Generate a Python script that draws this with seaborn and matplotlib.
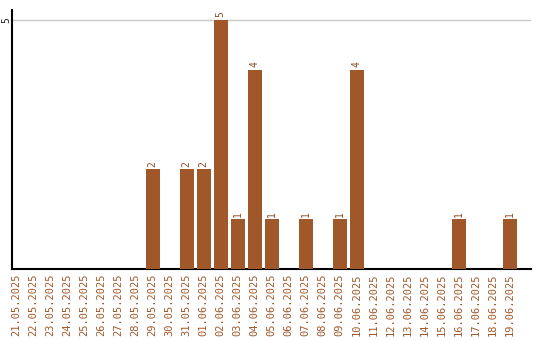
import matplotlib
matplotlib.use("Agg")
import matplotlib.pyplot as plt
import seaborn as sns
import pandas as pd

dates = ["21.05.2025", "22.05.2025", "23.05.2025", "24.05.2025", "25.05.2025",
         "26.05.2025", "27.05.2025", "28.05.2025", "29.05.2025", "30.05.2025",
         "31.05.2025", "01.06.2025", "02.06.2025", "03.06.2025", "04.06.2025",
         "05.06.2025", "06.06.2025", "07.06.2025", "08.06.2025", "09.06.2025",
         "10.06.2025", "11.06.2025", "12.06.2025", "13.06.2025", "14.06.2025",
         "15.06.2025", "16.06.2025", "17.06.2025", "18.06.2025", "19.06.2025"]
counts = [0, 0, 0, 0, 0, 0, 0, 0, 2, 0,
          2, 2, 5, 1, 4, 1, 0, 1, 0, 1,
          4, 0, 0, 0, 0, 0, 1, 0, 0, 1]
yticks = [5]

color = "#A0582A"
df = pd.DataFrame({"date": dates, "count": counts})

sns.set_style("white")
fig = plt.figure(figsize=(5.4, 3.4), dpi=100)
ax = fig.add_axes([0.0222, 0.209, 0.961, 0.762])

sns.barplot(data=df, x="date", y="count", color=color, saturation=1,
            width=0.82, ax=ax, zorder=3, linewidth=0)

for i, v in enumerate(counts):
    if v > 0:
        ax.text(i, v + 0.05, str(v), rotation=90, ha="center", va="bottom",
                fontsize=7, color="#8a5028", family="DejaVu Sans Mono")

ax.set_xlim(-0.28, 30.25)
ax.set_ylim(0, 5.2)
ax.set_yticks(yticks)
ax.set_yticklabels([str(t) for t in yticks], rotation=90, va="center",
                   fontsize=7, family="DejaVu Sans Mono")
ax.tick_params(axis="y", length=0, pad=0.5)
ax.tick_params(axis="x", length=0, pad=3)
ax.set_xticks(range(len(dates)))
ax.set_xticklabels(dates, rotation=90, fontsize=7.5, color=color,
                   family="DejaVu Sans Mono")
ax.yaxis.grid(True, color="#c8c8c8", linewidth=1, zorder=0)
ax.set_xlabel("")
ax.set_ylabel("")
for s in ["top", "right"]:
    ax.spines[s].set_visible(False)
ax.spines["left"].set_color("black")
ax.spines["bottom"].set_color("black")
ax.spines["left"].set_linewidth(1.5)
ax.spines["bottom"].set_linewidth(1.5)

fig.savefig("out.png", dpi=100)
